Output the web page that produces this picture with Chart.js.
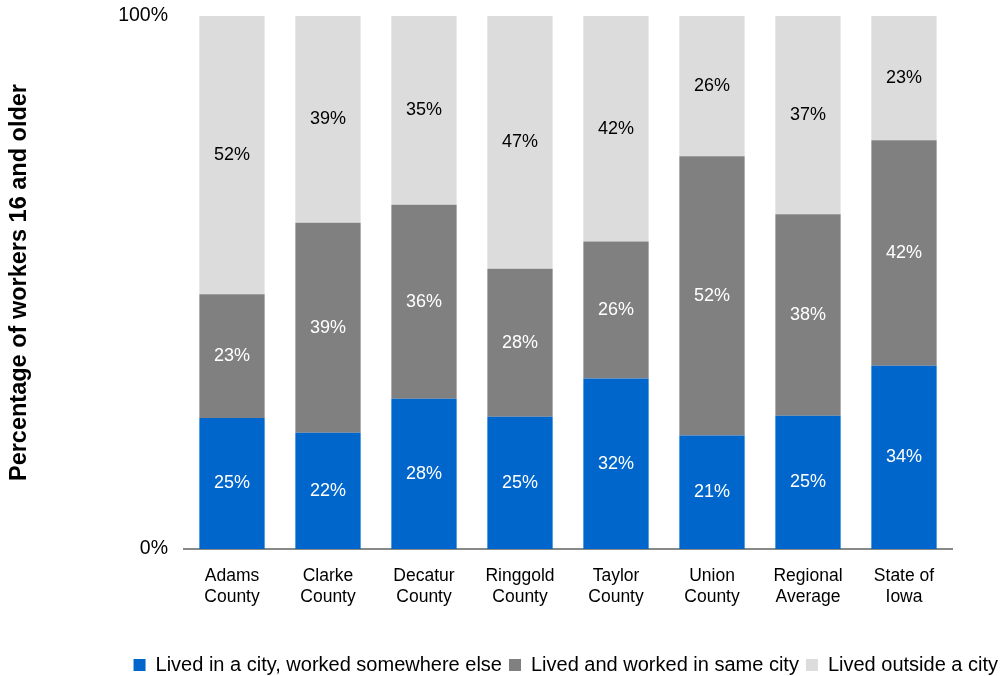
<!DOCTYPE html>
<html>
<head>
<meta charset="utf-8">
<script src="https://cdn.jsdelivr.net/npm/chart.js@4.4.1/dist/chart.umd.min.js"></script>
<style>
  html, body { margin: 0; padding: 0; background: #fff; }
  #wrap { width: 1005px; height: 676px; }
</style>
</head>
<body>
<div id="wrap"><canvas id="commuteChart" width="1005" height="676"></canvas></div>
<script>
// Categories (two-line labels)
const places = [
  ['Adams', 'County'], ['Clarke', 'County'], ['Decatur', 'County'], ['Ringgold', 'County'],
  ['Taylor', 'County'], ['Union', 'County'], ['Regional', 'Average'], ['State of', 'Iowa']
];

// Series values (percent of workers 16 and older)
const livedCityWorkedElsewhere = [24.6, 21.8, 28.2, 24.8, 32.0, 21.3, 25.0, 34.4];
const livedWorkedSameCity      = [23.2, 39.4, 36.4, 27.8, 25.7, 52.4, 37.8, 42.3];
const livedOutsideCity         = [52.2, 38.8, 35.4, 47.4, 42.3, 26.3, 37.2, 23.3];

const seriesNames = [
  'Lived in a city, worked somewhere else',
  'Lived and worked in same city',
  'Lived outside a city'
];

// Y axis ticks
const yTicks = [0, 100];

const FONT = '"Liberation Sans", Arial, Helvetica, sans-serif';

// Draw the rounded percent inside each bar segment
const segmentLabels = {
  id: 'segmentLabels',
  afterDatasetsDraw(chart) {
    const ctx = chart.ctx;
    ctx.save();
    ctx.font = '18px ' + FONT;
    ctx.textAlign = 'center';
    ctx.textBaseline = 'middle';
    chart.data.datasets.forEach((ds, i) => {
      const meta = chart.getDatasetMeta(i);
      ctx.fillStyle = i === 2 ? '#000000' : '#ffffff';
      meta.data.forEach((bar, j) => {
        const y = (bar.y + bar.base) / 2;
        ctx.fillText(Math.round(ds.data[j]) + '%', bar.x, y);
      });
    });
    ctx.restore();
  }
};

new Chart(document.getElementById('commuteChart'), {
  type: 'bar',
  data: {
    labels: places,
    datasets: [
      { label: seriesNames[0], data: livedCityWorkedElsewhere, backgroundColor: '#0066cc' },
      { label: seriesNames[1], data: livedWorkedSameCity, backgroundColor: '#808080' },
      { label: seriesNames[2], data: livedOutsideCity, backgroundColor: '#dcdcdc' }
    ]
  },
  options: {
    responsive: false,
    animation: false,
    layout: { padding: { top: 16, right: 0, bottom: -9, left: 0 } },
    datasets: { bar: { barPercentage: 0.68, categoryPercentage: 1.0 } },
    plugins: {
      tooltip: { enabled: false },
      legend: {
        position: 'bottom',
        align: 'end',
        labels: {
          font: { family: FONT, size: 20 },
          color: '#000',
          boxWidth: 12,
          boxHeight: 12,
          padding: 7
        }
      }
    },
    scales: {
      x: {
        stacked: true,
        grid: { display: false, drawTicks: false },
        border: { display: true, color: '#888888', width: 2 },
        ticks: {
          color: '#000',
          font: { family: FONT, size: 17.5 },
          padding: 17,
          maxRotation: 0,
          autoSkip: false
        },
        afterFit(scale) { scale.height = 99; }
      },
      y: {
        stacked: true,
        min: 0,
        max: 100,
        grid: { display: false, drawTicks: false },
        border: { display: false },
        afterBuildTicks(scale) { scale.ticks = yTicks.map(v => ({ value: v })); },
        ticks: {
          color: '#000',
          font: { family: FONT, size: 19.5 },
          padding: 16,
          callback: v => v + '%'
        },
        title: {
          display: true,
          text: 'Percentage of workers 16 and older',
          color: '#000',
          font: { family: FONT, size: 23.5, weight: 'bold' },
          padding: { top: 5, bottom: 0 }
        },
        afterFit(scale) {
          scale.width = 184;
          scale.paddingTop = 0;
          scale.paddingBottom = 0;
        }
      },
      yRight: {
        position: 'right',
        display: true,
        grid: { display: false, drawTicks: false },
        border: { display: false },
        ticks: { display: false },
        afterFit(scale) { scale.width = 53; }
      }
    }
  },
  plugins: [segmentLabels]
});
</script>
</body>
</html>
